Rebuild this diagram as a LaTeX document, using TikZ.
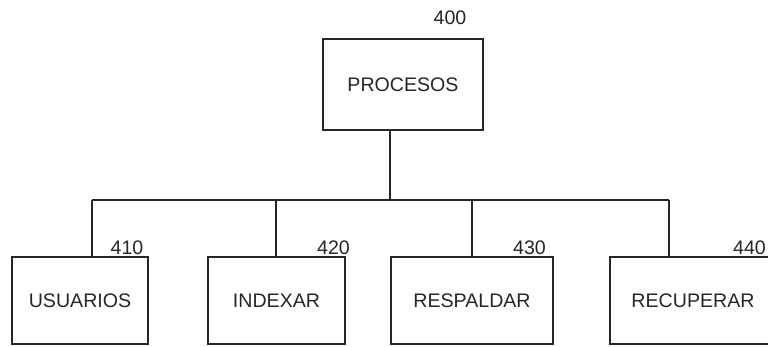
\documentclass[tikz,border=0pt]{standalone}
\usepackage{fontspec}
\setmainfont{Liberation Sans}
\begin{document}
\begin{tikzpicture}[x=1pt,y=-1pt,
  every node/.style={font=\fontsize{19.6}{23}\selectfont, text=black!85},
  box/.style={draw=black!85, line width=1.6pt, rectangle, inner sep=0pt, minimum height=87pt},
  lbl/.style={inner sep=0pt, anchor=base},
  conn/.style={draw=black!85, line width=1.4pt}]
\useasboundingbox (0,0) rectangle (768,346);
\clip (0,0) rectangle (768,346);
\node[box, minimum width=160pt, minimum height=91pt] (proc) at (403,84.5) {PROCESOS};
\node[box, minimum width=136pt] (usu) at (80,300.5) {USUARIOS};
\node[box, minimum width=137pt] (idx) at (276.5,300.5) {INDEXAR};
\node[box, minimum width=162pt] (res) at (472,300.5) {RESPALDAR};
\node[box, minimum width=166pt] (rec) at (693,300.5) {RECUPERAR};
\node[lbl] (n400) at (450,24) {400};
\node[lbl] (n410) at (127,254) {410};
\node[lbl] (n420) at (333.5,254) {420};
\node[lbl] (n430) at (529.5,254) {430};
\node[lbl] (n440) at (749.5,254) {440};
\coordinate (b0) at (390,200);
\coordinate (b1) at (92,200);
\coordinate (b2) at (276,200);
\coordinate (b3) at (472,200);
\coordinate (b4) at (669,200);
\draw[conn] (proc.south -| b0) -- (b0);
\draw[conn] (b1) -- (b4);
\draw[conn] (b1) -- (b1 |- usu.north);
\draw[conn] (b2) -- (b2 |- idx.north);
\draw[conn] (b3) -- (b3 |- res.north);
\draw[conn] (b4) -- (b4 |- rec.north);
\end{tikzpicture}
\end{document}
